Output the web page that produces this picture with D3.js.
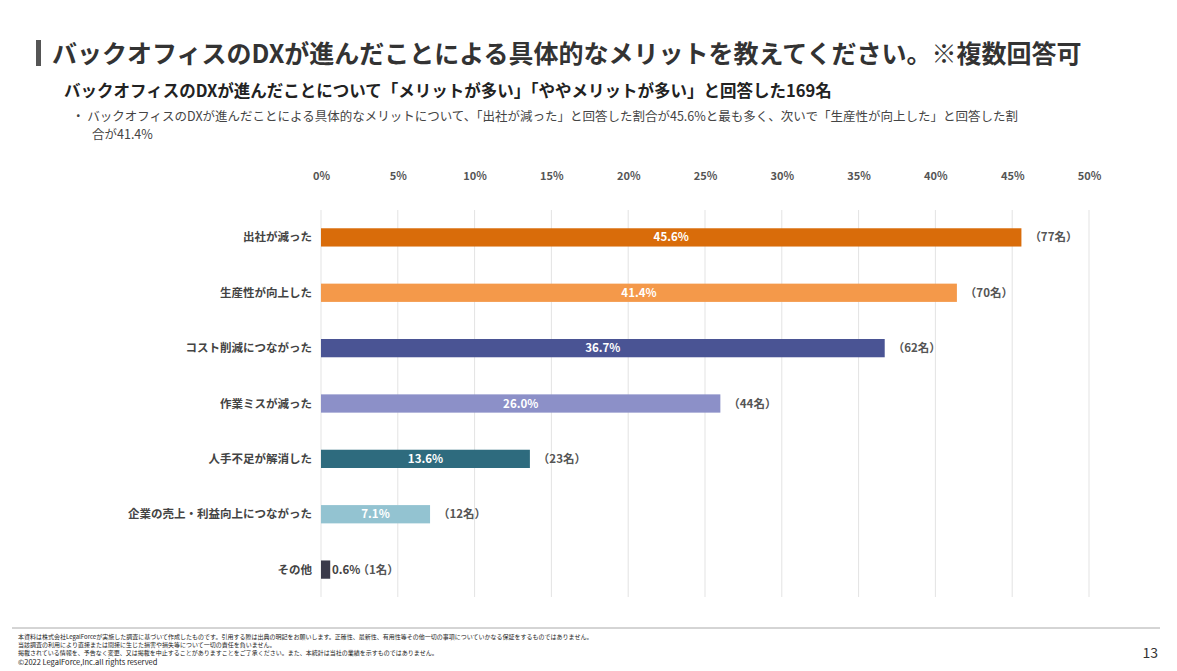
<!DOCTYPE html>
<html>
<head>
<meta charset="utf-8">
<script src="https://d3js.org/d3.v7.min.js"></script>
<style>
  body { margin: 0; background: #fff; font-family: "Noto Sans CJK JP", "Noto Sans", sans-serif; }
  svg text { font-family: "Noto Sans CJK JP", "Noto Sans", sans-serif; }
</style>
</head>
<body>
<svg id="chart" width="1177" height="671"></svg>
<script>
  // data
  const categories = ["出社が減った", "生産性が向上した", "コスト削減につながった", "作業ミスが減った", "人手不足が解消した", "企業の売上・利益向上につながった", "その他"];
  const percents = [45.6, 41.4, 36.7, 26.0, 13.6, 7.1, 0.6];
  const counts = [77, 70, 62, 44, 23, 12, 1];
  const colors = ["#d96c0a", "#f4994a", "#4a5494", "#8c90c8", "#2e6b7e", "#93c3d1", "#3a3a4a"];
  const ticks = [0, 5, 10, 15, 20, 25, 30, 35, 40, 45, 50];

  const svg = d3.select("#chart");

  // header
  svg.append("rect").attr("x", 36).attr("y", 40).attr("width", 5).attr("height", 26).attr("fill", "#555");
  svg.append("text").attr("x", 52).attr("y", 63).attr("font-size", 25).attr("font-weight", "bold").attr("fill", "#333")
    .text("バックオフィスのDXが進んだことによる具体的なメリットを教えてください。※複数回答可");
  svg.append("text").attr("x", 64).attr("y", 97).attr("font-size", 16.5).attr("font-weight", "bold").attr("fill", "#222")
    .text("バックオフィスのDXが進んだことについて「メリットが多い」「ややメリットが多い」と回答した169名");
  svg.append("text").attr("x", 72).attr("y", 121).attr("font-size", 12.5).attr("fill", "#444")
    .text("・ バックオフィスのDXが進んだことによる具体的なメリットについて、「出社が減った」と回答した割合が45.6%と最も多く、次いで「生産性が向上した」と回答した割");
  svg.append("text").attr("x", 92).attr("y", 139).attr("font-size", 12.5).attr("fill", "#444").text("合が41.4%");

  // scales
  const x = d3.scaleLinear().domain([0, 50]).range([321, 1089]);
  const y = d3.scaleBand().domain(categories).range([210, 597]).paddingInner(0.67).paddingOuter(0.33);

  const axis = d3.axisTop(x).tickValues(ticks).tickFormat(d => d + "%").tickSize(0).tickPadding(10);
  const axisGroup = svg.append("g").attr("transform", "translate(0,190)").call(axis);
  axisGroup.select(".domain").remove();
  axisGroup.selectAll("text").attr("font-size", 11).attr("font-weight", "bold").attr("fill", "#555");

  svg.append("g").selectAll("line").data(ticks).enter().append("line")
    .attr("x1", d => x(d)).attr("x2", d => x(d)).attr("y1", 210).attr("y2", 597)
    .attr("stroke", "#e3e3e3");

  const rows = svg.append("g").selectAll("g").data(categories).enter().append("g");
  rows.append("rect")
    .attr("x", x(0)).attr("y", d => y(d)).attr("height", y.bandwidth())
    .attr("width", (d, i) => x(percents[i]) - x(0))
    .attr("fill", (d, i) => colors[i]);
  rows.append("text")
    .attr("x", 312).attr("y", d => y(d) + y.bandwidth() / 2).attr("dy", "0.35em")
    .attr("text-anchor", "end").attr("font-size", 11.5).attr("font-weight", "bold").attr("fill", "#444")
    .text(d => d);
  rows.append("text")
    .attr("x", (d, i) => i === 6 ? x(percents[i]) + 16 : (x(0) + x(percents[i])) / 2)
    .attr("y", d => y(d) + y.bandwidth() / 2).attr("dy", "0.35em")
    .attr("text-anchor", "middle").attr("font-size", 11.5).attr("font-weight", "bold")
    .attr("fill", (d, i) => i === 6 ? "#444" : "#fff")
    .text((d, i) => percents[i].toFixed(1) + "%");
  rows.append("text")
    .attr("x", (d, i) => x(percents[i]) + (i === 6 ? 48 : 32))
    .attr("y", d => y(d) + y.bandwidth() / 2).attr("dy", "0.35em")
    .attr("text-anchor", "middle").attr("font-size", 11.5).attr("font-weight", "bold").attr("fill", "#555")
    .text((d, i) => "（" + counts[i] + "名）");

  // footer
  svg.append("line").attr("x1", 12).attr("x2", 1160).attr("y1", 628).attr("y2", 628).attr("stroke", "#aaa");
  const foot = ["本資料は株式会社LegalForceが実施した調査に基づいて作成したものです。引用する際は出典の明記をお願いします。正確性、最新性、有用性等その他一切の事項についていかなる保証をするものではありません。",
    "当該調査の利用により直接または間接に生じた損害や損失等について一切の責任を負いません。",
    " 掲載されている情報を、予告なく変更、又は掲載を中止することがありますことをご了承ください。また、本統計は当社の業績を示すものではありません。"];
  foot.forEach((t, i) => svg.append("text").attr("x", 18).attr("y", 639 + i * 8).attr("font-size", 6).attr("fill", "#222").text(t));
  svg.append("text").attr("x", 18).attr("y", 665).attr("font-size", 7.5).attr("fill", "#222").text("©2022 LegalForce,Inc.all rights reserved");
  svg.append("text").attr("x", 1158).attr("y", 658).attr("text-anchor", "end").attr("font-size", 14)
    .attr("font-family", "Liberation Serif, serif").attr("fill", "#333").text("13");
</script>
</body>
</html>
